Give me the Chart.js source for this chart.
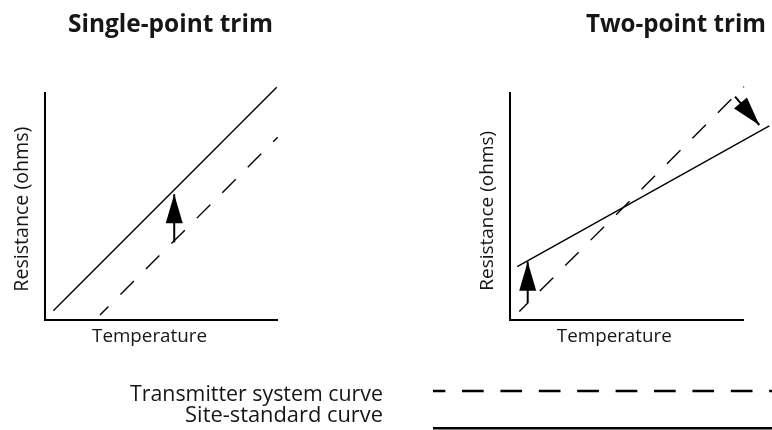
<!DOCTYPE html>
<html>
<head>
<meta charset="utf-8">
<title>Single-point trim / Two-point trim</title>
<script src="https://cdn.jsdelivr.net/npm/chart.js@4.4.1/dist/chart.umd.min.js"></script>
<style>
  html, body { margin: 0; padding: 0; background: #ffffff; }
  #stage { position: relative; width: 772px; height: 430px; overflow: hidden; background: #ffffff; }
  #stage canvas { position: absolute; left: 0; top: 0; }
</style>
</head>
<body>
<div id="stage">
  <canvas id="singleChart" width="772" height="430"></canvas>
  <canvas id="twoChart" width="772" height="430"></canvas>
</div>
<script>
// ---------- Text ----------
const panelTitles = ['Single-point trim', 'Two-point trim'];
const xAxisTitle = 'Temperature';
const yAxisTitle = 'Resistance (ohms)';
const legendLabels = ['Transmitter system curve', 'Site-standard curve'];

// ---------- Axis ranges (relative units, no ticks shown) ----------
const tempRange = [0, 100];
const resRange = [0, 100];

// ---------- Single-point trim ----------
const singleSiteTemp  = [3.6, 99.9];     // site-standard curve (solid)
const singleSiteRes   = [4.1, 102.5];
const singleTxTemp    = [23.7, 100.3];   // transmitter system curve (dashed)
const singleTxRes     = [2.2, 80.5];
const singleArrowTemp = [55.7, 55.7];    // trim arrow
const singleArrowRes  = [34.2, 55.4];

// ---------- Two-point trim ----------
const twoSiteTemp      = [3.1, 111.3];
const twoSiteRes       = [23.5, 85.5];
const twoTxTemp        = [4.0, 100.4];
const twoTxRes         = [3.7, 102.8];
const twoArrowLowTemp  = [7.6, 7.6];
const twoArrowLowRes   = [7.4, 25.7];
const twoArrowHighTemp = [96.6, 107.0];
const twoArrowHighRes  = [98.4, 85.9];

// ---------- helpers ----------
const pts = (xs, ys) => xs.map((x, i) => ({ x: x, y: ys[i] }));
const INK = '#000000';
const TEXT = '#161616';
const FONT = '"Open Sans", "Noto Sans", sans-serif';

function siteDs(label, xs, ys) {
  return { label, data: pts(xs, ys), showLine: true, borderColor: INK, borderWidth: 1.4,
           pointRadius: 0, tension: 0, clip: false };
}
function txDs(label, xs, ys) {
  return { label, data: pts(xs, ys), showLine: true, borderColor: INK, borderWidth: 1.4,
           borderDash: [19, 17], borderDashOffset: 7, pointRadius: 0, tension: 0, clip: false };
}
function arrowDs(label, xs, ys) {
  return { label, data: pts(xs, ys), showLine: true, borderColor: INK, borderWidth: 2,
           pointRadius: 0, tension: 0, clip: false, arrowHead: true };
}
function axis(range) {
  return {
    type: 'linear', min: range[0], max: range[1],
    grid: { display: false, drawTicks: false },
    ticks: { display: false },
    border: { display: true, color: INK, width: 2 },
    title: { display: false },
    afterFit(scale) { if (scale.isHorizontal()) scale.height = 0; else scale.width = 0; }
  };
}

// Arrow heads drawn at the last point of each arrow dataset
const arrowHeads = {
  id: 'arrowHeads',
  afterDatasetsDraw(chart, args, opts) {
    const ctx = chart.ctx;
    chart.data.datasets.forEach((ds, i) => {
      if (!ds.arrowHead) return;
      const meta = chart.getDatasetMeta(i);
      const p = meta.data;
      const a = p[p.length - 2], b = p[p.length - 1];
      const ang = Math.atan2(b.y - a.y, b.x - a.x);
      ctx.save();
      ctx.translate(b.x, b.y);
      ctx.rotate(ang);
      ctx.beginPath();
      ctx.moveTo(0, 0);
      ctx.lineTo(-opts.length, -opts.halfWidth);
      ctx.lineTo(-opts.length, opts.halfWidth);
      ctx.closePath();
      ctx.fillStyle = ds.borderColor;
      ctx.fill();
      ctx.restore();
    });
  }
};

// Titles and axis titles, each fitted to the width it occupies in the figure
function fitFont(ctx, text, weight, width) {
  ctx.font = weight + ' 20px ' + FONT;
  const w = ctx.measureText(text).width;
  return weight + ' ' + (20 * width / w).toFixed(2) + 'px ' + FONT;
}
const panelText = {
  id: 'panelText',
  afterDraw(chart, args, opts) {
    const ctx = chart.ctx;
    (opts.items || []).forEach(it => {
      ctx.save();
      ctx.font = fitFont(ctx, it.text, it.weight, it.width);
      ctx.fillStyle = TEXT;
      ctx.textAlign = it.align;
      ctx.textBaseline = 'alphabetic';
      ctx.translate(it.x, it.y);
      if (it.rotate) ctx.rotate(it.rotate * Math.PI / 180);
      ctx.fillText(it.text, 0, 0);
      ctx.restore();
    });
  }
};

// Legend: right-aligned labels with line samples to their right
const curveLegend = {
  id: 'curveLegend',
  afterDraw(chart, args, opts) {
    if (!opts.entries) return;
    const ctx = chart.ctx;
    opts.entries.forEach(e => {
      ctx.save();
      ctx.font = fitFont(ctx, e.text, 'normal', e.width);
      ctx.fillStyle = TEXT;
      ctx.textAlign = 'right';
      ctx.textBaseline = 'alphabetic';
      ctx.fillText(e.text, opts.textRight, e.baseline);
      ctx.beginPath();
      ctx.setLineDash(e.dash);
      ctx.lineDashOffset = e.dashOffset;
      ctx.lineWidth = opts.lineWidth;
      ctx.strokeStyle = INK;
      ctx.moveTo(opts.lineStart, e.lineY);
      ctx.lineTo(opts.lineEnd, e.lineY);
      ctx.stroke();
      ctx.restore();
    });
  }
};

function makeChart(id, datasets, padding, textItems, legendOpts) {
  return new Chart(document.getElementById(id), {
    type: 'scatter',
    data: { datasets },
    options: {
      responsive: false,
      animation: false,
      events: [],
      layout: { padding },
      scales: { x: axis(tempRange), y: axis(resRange) },
      plugins: {
        legend: { display: false },
        tooltip: { enabled: false },
        title: { display: false },
        arrowHeads: { length: 29, halfWidth: 8.5 },
        panelText: { items: textItems },
        curveLegend: legendOpts || {}
      }
    },
    plugins: [arrowHeads, panelText, curveLegend]
  });
}

makeChart('singleChart',
  [
    siteDs(legendLabels[1], singleSiteTemp, singleSiteRes),
    txDs(legendLabels[0], singleTxTemp, singleTxRes),
    arrowDs('trim', singleArrowTemp, singleArrowRes)
  ],
  { left: 45, right: 495, top: 93, bottom: 110 },
  [
    { text: panelTitles[0], weight: 'bold', align: 'left', x: 68, y: 31.5, width: 205 },
    { text: xAxisTitle, weight: 'normal', align: 'center', x: 149.5, y: 342, width: 115 },
    { text: yAxisTitle, weight: 'normal', align: 'center', x: 28.3, y: 209.2, width: 165, rotate: -90 }
  ],
  {
    textRight: 383, lineStart: 433, lineEnd: 772, lineWidth: 2.5,
    entries: [
      { text: legendLabels[0], baseline: 401, width: 253, lineY: 391, dash: [21.7, 16.7], dashOffset: 9.4 },
      { text: legendLabels[1], baseline: 421.7, width: 198, lineY: 428.3, dash: [], dashOffset: 0 }
    ]
  }
);

makeChart('twoChart',
  [
    siteDs(legendLabels[1], twoSiteTemp, twoSiteRes),
    txDs(legendLabels[0], twoTxTemp, twoTxRes),
    arrowDs('low trim', twoArrowLowTemp, twoArrowLowRes),
    arrowDs('high trim', twoArrowHighTemp, twoArrowHighRes)
  ],
  { left: 510, right: 29, top: 93, bottom: 110 },
  [
    { text: panelTitles[1], weight: 'bold', align: 'left', x: 586, y: 31.5, width: 180 },
    { text: xAxisTitle, weight: 'normal', align: 'center', x: 614.3, y: 342, width: 115 },
    { text: yAxisTitle, weight: 'normal', align: 'center', x: 493.3, y: 210.8, width: 160, rotate: -90 }
  ],
  null
);
</script>
</body>
</html>
